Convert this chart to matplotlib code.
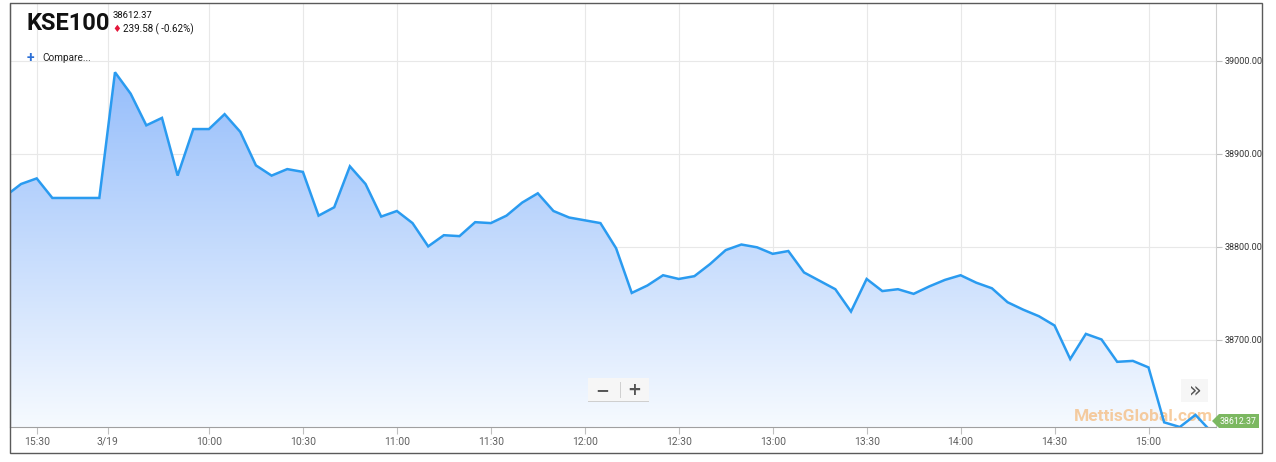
import matplotlib
matplotlib.use('Agg')
import matplotlib.pyplot as plt
from matplotlib.patches import Rectangle, Polygon
import numpy as np

plt.rcParams['font.family'] = ['Roboto', 'DejaVu Sans']

# KSE100, 5 minute points: end of 18 Mar session, then 19 Mar
kse_values = [38855, 38868, 38874, 38853, 38853, 38853, 38853,
              38988, 38965, 38931, 38939, 38877, 38927, 38927, 38943, 38924,
              38888, 38877, 38884, 38881, 38834, 38843, 38887, 38868, 38833,
              38839, 38826, 38801, 38813, 38812, 38827, 38826, 38834, 38848,
              38858, 38839, 38832, 38829, 38826, 38799, 38751, 38759, 38770,
              38766, 38769, 38782, 38797, 38803, 38800, 38793, 38796, 38773,
              38764, 38755, 38731, 38766, 38753, 38755, 38750, 38758, 38765,
              38770, 38762, 38756, 38741, 38733, 38726, 38716, 38680, 38707,
              38701, 38677, 38678, 38671, 38612, 38607, 38620, 38602]

tick_index = [2, 6.54, 13, 19, 25, 31, 37, 43, 49, 55, 61, 67, 73]
tick_labels = ['15:30', '3/19', '10:00', '10:30', '11:00', '11:30', '12:00',
               '12:30', '13:00', '13:30', '14:00', '14:30', '15:00']

y_ticks = [38700, 38800, 38900, 39000]

last_price = '38612.37'
change_text = '239.58 ( -0.62%)'

W, H = 1276, 462
my_dpi = 100


def fx(x):
    return x / W


def fy(y):
    return 1 - y / H


fig = plt.figure(figsize=(W / my_dpi, H / my_dpi), dpi=my_dpi)
ax = fig.add_axes([fx(10), fy(427), fx(1216) - fx(10), fy(3) - fy(427)])

x = np.arange(len(kse_values))
y = np.array(kse_values)

xlo, xhi = 0.295, 77.31
ylo, yhi = 38607, 39062.4
ax.set_xlim(xlo, xhi)
ax.set_ylim(ylo, yhi)

# gradient fill under the line
verts = np.vstack([np.column_stack([x, y]), [[x[-1], ylo - 50], [x[0], ylo - 50]]])
clip = Polygon(verts, closed=True, transform=ax.transData, facecolor='none', edgecolor='none')
ax.add_patch(clip)
top_c = np.array([150, 190, 251]) / 255
bot_c = np.array([246, 250, 255]) / 255
t = np.linspace(0, 1, 256)[:, None]
grad = top_c[None, :] * (1 - t) + bot_c[None, :] * t
img = ax.imshow(grad[:, None, :], extent=[xlo, xhi, ylo, max(kse_values)],
                aspect='auto', origin='upper', zorder=1)
img.set_clip_path(clip)

ax.plot(x, y, color='#2a9bf0', lw=1.8, zorder=3, solid_joinstyle='miter')

# grid
ax.set_xticks(tick_index)
ax.set_xticklabels(tick_labels)
ax.set_yticks(y_ticks)
ax.set_yticklabels(['%.2f' % v for v in y_ticks])
ax.grid(True, color='#e8e8e8', lw=0.8, zorder=0)
ax.set_axisbelow(True)
ax.yaxis.tick_right()
ax.tick_params(axis='x', direction='out', length=5, color='#c0c0c0', labelsize=7.5,
               labelcolor='#606060', pad=2)
ax.tick_params(axis='y', direction='out', length=4, color='#c0c0c0', labelsize=6.5,
               labelcolor='#333333', pad=2)
for lab in ax.get_yticklabels():
    lab.set_verticalalignment('center')

ax.spines['top'].set_visible(False)
ax.spines['left'].set_color('#555555')
ax.spines['bottom'].set_color('#a0a0a0')
ax.spines['right'].set_color('#d0d0d0')
ax.set_facecolor('white')

# watermark
ax.text(0.997, 0.025, 'MettisGlobal.com', transform=ax.transAxes, ha='right', va='center',
        fontsize=12.5, fontweight='bold', color='#f5b877', alpha=0.7, zorder=2.5,
        clip_on=False)

# outer frame
fig.patches.append(Rectangle((fx(10), fy(453)), fx(1262) - fx(10), fy(3) - fy(453),
                             transform=fig.transFigure, fill=False, edgecolor='#5a5a5a', lw=1))

# header
fig.text(fx(27), fy(23), 'KSE100', fontsize=17, fontweight='bold', color='#111111',
         family=['Liberation Sans Narrow', 'Roboto'], va='center', ha='left')
fig.text(fx(113), fy(16), last_price, fontsize=6.8, color='#111111', va='center')
fig.text(fx(112), fy(29), '\u2666', fontsize=7, color='#e4163a', va='center',
         family=['DejaVu Sans'])
fig.text(fx(123), fy(29), change_text, fontsize=7, color='#111111', va='center')
fig.text(fx(27), fy(58), '+', fontsize=10, fontweight='bold', color='#2b6fd6', va='center')
fig.text(fx(42), fy(58), 'Compare...', fontsize=7.2, color='#222222', va='center')

# zoom buttons
fig.patches.append(Rectangle((fx(588), fy(401)), fx(649) - fx(588), fy(378) - fy(401),
                             transform=fig.transFigure, facecolor='#f6f6f6', edgecolor='none'))
fig.patches.append(Rectangle((fx(588), fy(402)), fx(649) - fx(588), fy(401) - fy(402),
                             transform=fig.transFigure, facecolor='#cfcfcf', edgecolor='none'))
fig.patches.append(Rectangle((fx(619.5), fy(398)), fx(620.5) - fx(619.5), fy(382) - fy(398),
                             transform=fig.transFigure, facecolor='#d0d0d0', edgecolor='none'))
fig.text(fx(602), fy(390), '\u2212', fontsize=12, fontweight='bold', color='#555555',
         ha='center', va='center', family=['DejaVu Sans'])
fig.text(fx(634), fy(390), '+', fontsize=12, fontweight='bold', color='#555555',
         ha='center', va='center', family=['DejaVu Sans'])

fig.patches.append(Rectangle((fx(1181), fy(402)), fx(1208) - fx(1181), fy(379) - fy(402),
                             transform=fig.transFigure, facecolor='#f6f6f6', edgecolor='none'))
fig.text(fx(1195), fy(390), '\u00bb', fontsize=15, color='#555555', ha='center', va='center',
         family=['DejaVu Sans'])

# last price badge
badge = Polygon([(fx(1212), fy(421)), (fx(1219), fy(414)), (fx(1259), fy(414)),
                 (fx(1259), fy(428)), (fx(1219), fy(428))], closed=True,
                transform=fig.transFigure, facecolor='#7cb861', edgecolor='none')
fig.patches.append(badge)
fig.text(fx(1238), fy(421), last_price, fontsize=6.3, color='white', ha='center', va='center')

plt.savefig('out.png', dpi=my_dpi)
plt.close()
